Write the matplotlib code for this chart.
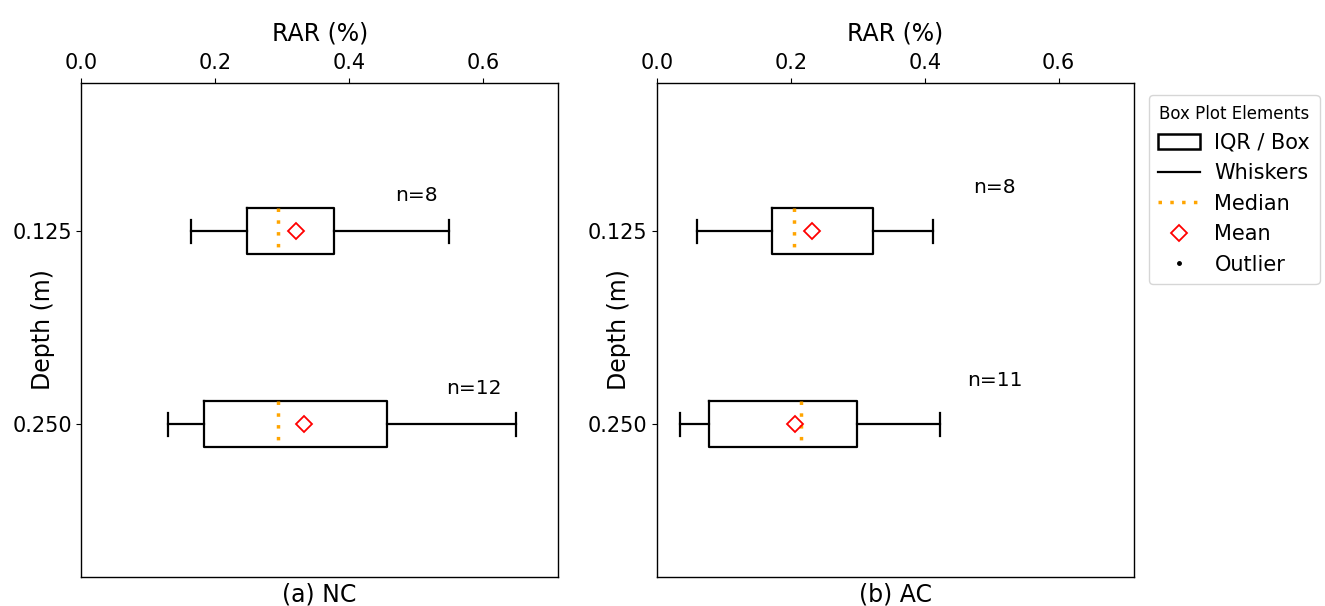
import matplotlib
matplotlib.use("Agg")
import matplotlib.pyplot as plt
from matplotlib.patches import Patch
from matplotlib.lines import Line2D

# depths (m) and box statistics
depths = [0.125, 0.250]
depth_labels = ["0.125", "0.250"]

nc_whislo = [0.164, 0.130]
nc_q1 = [0.247, 0.183]
nc_med = [0.294, 0.294]
nc_mean = [0.320, 0.333]
nc_q3 = [0.378, 0.456]
nc_whishi = [0.549, 0.649]
nc_n = [8, 12]

ac_whislo = [0.060, 0.034]
ac_q1 = [0.171, 0.077]
ac_med = [0.204, 0.215]
ac_mean = [0.231, 0.206]
ac_q3 = [0.322, 0.298]
ac_whishi = [0.412, 0.422]
ac_n = [8, 11]

# where the n= labels sit (x in RAR, y in depth)
nc_text_x = [0.500, 0.587]
nc_text_y = [0.102, 0.227]
ac_text_x = [0.504, 0.504]
ac_text_y = [0.097, 0.222]

panel_titles = ["(a) NC", "(b) AC"]


def make_stats(lo, q1, med, mean, q3, hi):
    out = []
    for i in range(len(lo)):
        out.append(dict(whislo=lo[i], q1=q1[i], med=med[i], mean=mean[i],
                        q3=q3[i], whishi=hi[i], fliers=[]))
    return out


boxprops = dict(color='black', linewidth=1.6)
whiskerprops = dict(color='black', linewidth=1.6)
capprops = dict(color='black', linewidth=1.6)
medianprops = dict(color='orange', linestyle=(0, (1, 2.4)), linewidth=2.5)
meanprops = dict(marker='D', markerfacecolor='none', markeredgecolor='red',
                 markersize=8.5, markeredgewidth=1.3)

fig = plt.figure(figsize=(13.25, 6.06), dpi=100)
ax1 = fig.add_axes([0.0615, 0.048, 0.3595, 0.815])
ax2 = fig.add_axes([0.496, 0.048, 0.3595, 0.815])

data = [
    (ax1, make_stats(nc_whislo, nc_q1, nc_med, nc_mean, nc_q3, nc_whishi), nc_n, nc_text_x, nc_text_y),
    (ax2, make_stats(ac_whislo, ac_q1, ac_med, ac_mean, ac_q3, ac_whishi), ac_n, ac_text_x, ac_text_y),
]

for k, (ax, stats, ns, tx, ty) in enumerate(data):
    ax.bxp(stats, positions=depths, widths=0.03, orientation='horizontal',
           showmeans=True, showfliers=False,
           boxprops=boxprops, whiskerprops=whiskerprops, capprops=capprops,
           medianprops=medianprops, meanprops=meanprops, manage_ticks=False)
    for j in range(len(ns)):
        ax.text(tx[j], ty[j], "n=%d" % ns[j], ha='center', va='center', fontsize=14.5)
    ax.set_xlim(0, 0.712)
    ax.set_ylim(0.349, 0.029)
    ax.set_yticks(depths)
    ax.set_yticklabels(depth_labels)
    ax.set_xticks([0.0, 0.2, 0.4, 0.6])
    ax.xaxis.tick_top()
    ax.xaxis.set_label_position('top')
    ax.set_xlabel("RAR (%)", fontsize=17, labelpad=9)
    ax.set_ylabel("Depth (m)", fontsize=17)
    ax.yaxis.label.set_verticalalignment('center')
    ax.yaxis.set_label_coords(-0.08, 0.5)
    ax.tick_params(labelsize=15)
    for s in ax.spines.values():
        s.set_linewidth(1.0)
    ax.text(0.5, -0.012, panel_titles[k], transform=ax.transAxes,
            ha='center', va='top', fontsize=17)

handles = [
    Patch(facecolor='none', edgecolor='black', linewidth=1.8),
    Line2D([], [], color='black', linewidth=1.6),
    Line2D([], [], color='orange', linestyle=(0, (1, 2.4)), linewidth=2.5),
    Line2D([], [], linestyle='none', marker='D', markerfacecolor='none',
           markeredgecolor='red', markersize=8.5, markeredgewidth=1.3),
    Line2D([], [], linestyle='none', marker='.', color='black', markersize=5),
]
labels = ["IQR / Box", "Whiskers", "Median", "Mean", "Outlier"]
leg = fig.legend(handles, labels, title="Box Plot Elements", loc='upper left',
                 bbox_to_anchor=(0.867, 0.843), borderaxespad=0,
                 fontsize=15, title_fontsize=12,
                 labelspacing=0.5, handletextpad=0.7, borderpad=0.45,
                 frameon=True)

fig.savefig("out.png", dpi=100)
